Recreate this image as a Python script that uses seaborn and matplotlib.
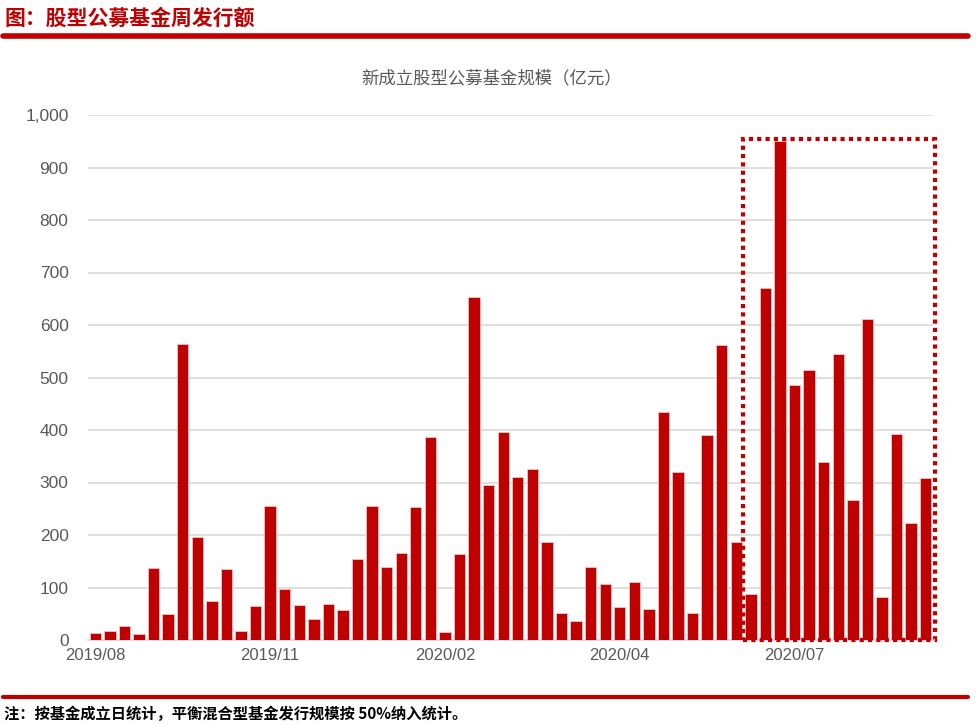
import numpy as np
import pandas as pd
import matplotlib
matplotlib.use("Agg")
import matplotlib.pyplot as plt
import seaborn as sns
from matplotlib.patches import Rectangle

# ---- data ----
values = [14, 17, 27, 11, 138, 49, 563, 197, 75, 136,
          18, 64, 255, 97, 66, 40, 68, 58, 155, 256,
          139, 166, 253, 387, 16, 163, 653, 296, 397, 311,
          326, 186, 52, 36, 140, 107, 63, 110, 59, 434,
          320, 52, 390, 561, 186, 88, 670, 950, 486, 514,
          339, 545, 267, 612, 81, 393, 223, 308]
week_index = list(range(len(values)))
tick_labels = ["2019/08", "2019/11", "2020/02", "2020/04", "2020/07"]
yticks = [0, 100, 200, 300, 400, 500, 600, 700, 800, 900, 1000]
title = "新成立股型公募基金规模（亿元）"
header = "图：股型公募基金周发行额"
note = "注：按基金成立日统计，平衡混合型基金发行规模按 50%纳入统计。"
highlight_start, highlight_end = 45, 57  # highlighted weeks (indices)

RED = "#C00000"
GREY = "#595959"
GRID = "#D9D9D9"

sns.set_style("white")
plt.rcParams["font.family"] = ["Liberation Sans", "Noto Sans CJK SC", "DejaVu Sans"]

fig = plt.figure(figsize=(9.78, 7.25), dpi=100)
ax = fig.add_axes([88 / 978, 1 - 640 / 725, (933 - 88) / 978, (640 - 115) / 725])

df = pd.DataFrame({"week": week_index, "value": values})
sns.barplot(data=df, x="week", y="value", color=RED, saturation=1, width=0.78,
            edgecolor="#F2C4C4", linewidth=0.6, ax=ax, zorder=3)

ax.set_xlim(-0.5, len(values) - 0.5)
ax.set_ylim(0, 1000)
ax.set_yticks(yticks)
ax.set_yticklabels([f"{v:,}" for v in yticks])
ax.yaxis.grid(True, color=GRID, linewidth=1.2, zorder=0)
ax.set_axisbelow(True)

ax.set_xticks([i * 12 for i in range(len(tick_labels))])
ax.set_xticklabels(tick_labels)
ax.set_xticks([k - 0.5 for k in range(len(values) + 1)], minor=True)
ax.tick_params(axis="x", which="major", length=0, pad=6, labelsize=12, labelcolor=GREY)
ax.tick_params(axis="x", which="minor", length=4, color=GRID, width=1)
ax.tick_params(axis="y", length=0, pad=14, labelsize=12.5, labelcolor=GREY)
ax.set_xlabel("")
ax.set_ylabel("")
for s in ["top", "right", "left"]:
    ax.spines[s].set_visible(False)
ax.spines["bottom"].set_color(GRID)
ax.spines["bottom"].set_linewidth(1.2)

# highlight box
rect = Rectangle((highlight_start - 0.55, 0), highlight_end - highlight_start + 1.2, 955,
                 fill=False, edgecolor=RED, linestyle=(0, (1, 1)), linewidth=3,
                 clip_on=False, zorder=5)
ax.add_patch(rect)

# titles / decorations
fig.text(492 / 978, 1 - 78 / 725, title, ha="center", va="center", fontsize=12.5,
         color=GREY, family=["Noto Sans CJK SC", "DejaVu Sans"])
fig.text(5 / 978, 1 - 18 / 725, header, ha="left", va="center", fontsize=15,
         color=RED, fontweight="bold", family=["Noto Sans CJK SC", "DejaVu Sans"])
fig.add_artist(plt.Line2D([3 / 978, 968 / 978], [1 - 36 / 725] * 2, color=RED, linewidth=4))
fig.add_artist(plt.Line2D([3 / 978, 968 / 978], [1 - 697 / 725] * 2, color=RED, linewidth=3))
fig.text(4 / 978, 1 - 714 / 725, note, ha="left", va="center", fontsize=11,
         color="black", fontweight="bold", family=["Noto Sans CJK SC", "DejaVu Sans"])

fig.savefig("out.png", dpi=100)
